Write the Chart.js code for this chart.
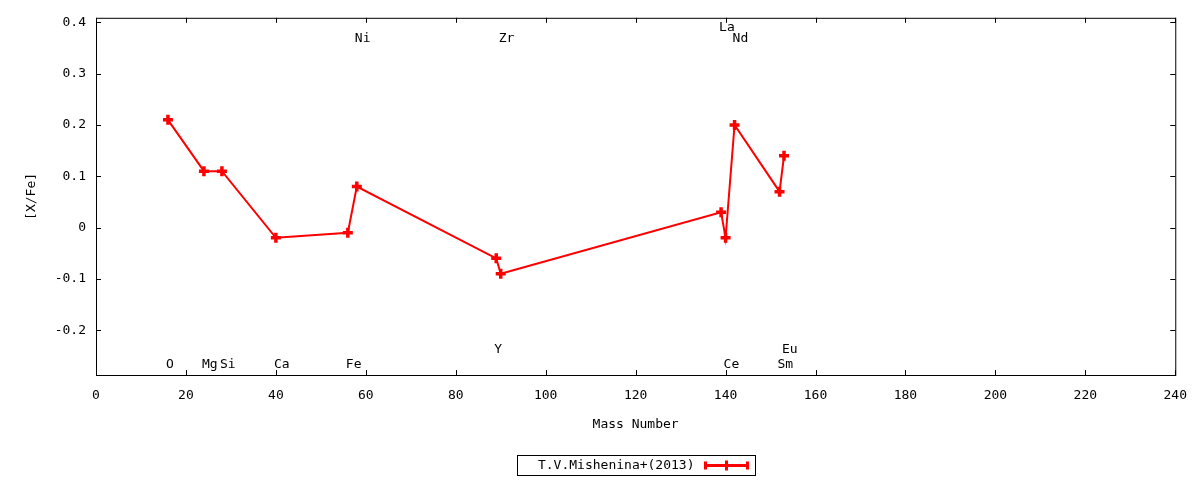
<!DOCTYPE html>
<html>
<head>
<meta charset="utf-8">
<script src="https://cdn.jsdelivr.net/npm/chart.js@4/dist/chart.umd.min.js"></script>
<style>
  html, body { margin: 0; padding: 0; background: #fff; }
  #wrap { width: 1200px; height: 480px; }
</style>
</head>
<body>
<div id="wrap"><canvas id="abundChart" width="1200" height="480"></canvas></div>
<script>
// Mishenina+(2013) abundances, [X/Fe] against mass number
const massNumbers = [16, 24, 28, 40, 56, 58, 89, 90, 139, 140, 142, 152, 153];
const xfeValues   = [0.21, 0.11, 0.11, -0.02, -0.01, 0.08, -0.06, -0.09, 0.03, -0.02, 0.20, 0.07, 0.14];
const seriesName  = 'T.V.Mishenina+(2013)';

// element names written above / below the curve
const elementNames = ['O', 'Mg', 'Si', 'Ca', 'Fe', 'Ni', 'Y', 'Zr', 'La', 'Ce', 'Nd', 'Sm', 'Eu'];
const elementMass  = [16, 24, 28, 40, 56, 58, 89, 90, 139, 140, 142, 152, 153];
const elementLabelY = [-0.265, -0.265, -0.265, -0.265, -0.265, 0.371, -0.237, 0.371, 0.391, -0.265, 0.371, -0.265, -0.237];

// axis ticks
const xTickValues = [0, 20, 40, 60, 80, 100, 120, 140, 160, 180, 200, 220, 240];
const yTickValues = [-0.2, -0.1, 0, 0.1, 0.2, 0.3, 0.4];

const FONT = '"DejaVu Sans Mono", "Liberation Mono", monospace';
const RED = '#ff0000';

// frame, inward ticks, element labels and legend box (gnuplot look)
const gnuplotDecor = {
    id: 'gnuplotDecor',
    afterDraw(chart) {
        const ctx = chart.ctx;
        const a = chart.chartArea;
        const xs = chart.scales.x;
        const ys = chart.scales.y;
        ctx.save();

        ctx.strokeStyle = '#000';
        ctx.lineWidth = 1;
        ctx.strokeRect(a.left + 0.5, a.top + 0.5, a.right - a.left, a.bottom - a.top);

        ctx.beginPath();
        xTickValues.forEach(v => {
            const px = Math.round(xs.getPixelForValue(v)) + 0.5;
            ctx.moveTo(px, a.bottom); ctx.lineTo(px, a.bottom - 5);
            ctx.moveTo(px, a.top); ctx.lineTo(px, a.top + 5);
        });
        yTickValues.forEach(v => {
            const py = Math.round(ys.getPixelForValue(v)) + 0.5;
            ctx.moveTo(a.left, py); ctx.lineTo(a.left + 5, py);
            ctx.moveTo(a.right, py); ctx.lineTo(a.right - 5, py);
        });
        ctx.stroke();

        // element names
        ctx.fillStyle = '#000';
        ctx.font = '13px ' + FONT;
        ctx.textAlign = 'left';
        ctx.textBaseline = 'middle';
        elementNames.forEach((name, i) => {
            ctx.fillText(name, xs.getPixelForValue(elementMass[i]) - 2, ys.getPixelForValue(elementLabelY[i]) + 1);
        });

        // legend
        const cx = (a.left + a.right) / 2;
        const bx = Math.round(cx - 119) + 0.5, by = 455.5, bw = 238, bh = 20;
        ctx.strokeStyle = '#000';
        ctx.lineWidth = 1;
        ctx.strokeRect(bx, by, bw, bh);
        ctx.textAlign = 'right';
        ctx.fillText(seriesName, bx + 177, by + bh / 2);
        const sx0 = bx + 188, sx1 = bx + 230, sy = by + bh / 2;
        ctx.strokeStyle = RED;
        ctx.lineWidth = 3;
        ctx.beginPath();
        ctx.moveTo(sx0, sy); ctx.lineTo(sx1, sy);
        ctx.moveTo(sx0, sy - 4); ctx.lineTo(sx0, sy + 4);
        ctx.moveTo(sx1, sy - 4); ctx.lineTo(sx1, sy + 4);
        const mx = (sx0 + sx1) / 2;
        ctx.moveTo(mx, sy - 5); ctx.lineTo(mx, sy + 5);
        ctx.stroke();

        ctx.restore();
    }
};

const points = massNumbers.map((m, i) => ({ x: m, y: xfeValues[i] }));

new Chart(document.getElementById('abundChart'), {
    type: 'line',
    data: {
        datasets: [{
            label: seriesName,
            data: points,
            borderColor: RED,
            backgroundColor: RED,
            borderWidth: 2,
            pointStyle: 'cross',
            pointRadius: 5,
            pointBorderWidth: 3.5,
            pointBorderColor: RED,
            tension: 0,
            fill: false
        }]
    },
    options: {
        responsive: false,
        animation: false,
        devicePixelRatio: 1,
        layout: { padding: { left: 20, right: 23, top: 17, bottom: 45 } },
        plugins: {
            legend: { display: false },
            tooltip: { enabled: false }
        },
        scales: {
            x: {
                type: 'linear',
                min: 0,
                max: 240,
                grid: { display: false, drawTicks: false },
                border: { display: false },
                afterBuildTicks: s => { s.ticks = xTickValues.map(v => ({ value: v })); },
                afterFit: s => { s.height = 60; },
                ticks: {
                    color: '#000',
                    padding: 13,
                    maxRotation: 0,
                    autoSkip: false,
                    font: { family: FONT, size: 13 }
                },
                title: {
                    display: true,
                    text: 'Mass Number',
                    color: '#000',
                    padding: { top: 0, bottom: 3 },
                    font: { family: FONT, size: 13 }
                }
            },
            y: {
                min: -0.2875,
                max: 0.409,
                grid: { display: false, drawTicks: false },
                border: { display: false },
                afterBuildTicks: s => { s.ticks = yTickValues.map(v => ({ value: v })); },
                afterFit: s => { s.width = 76; },
                ticks: {
                    color: '#000',
                    padding: 10,
                    font: { family: FONT, size: 13 },
                    callback: v => Math.abs(v) < 1e-9 ? '0' : v.toFixed(1)
                },
                title: {
                    display: true,
                    text: '[X/Fe]',
                    color: '#000',
                    padding: { top: 4, bottom: 0 },
                    font: { family: FONT, size: 13 }
                }
            }
        }
    },
    plugins: [gnuplotDecor]
});
</script>
</body>
</html>
